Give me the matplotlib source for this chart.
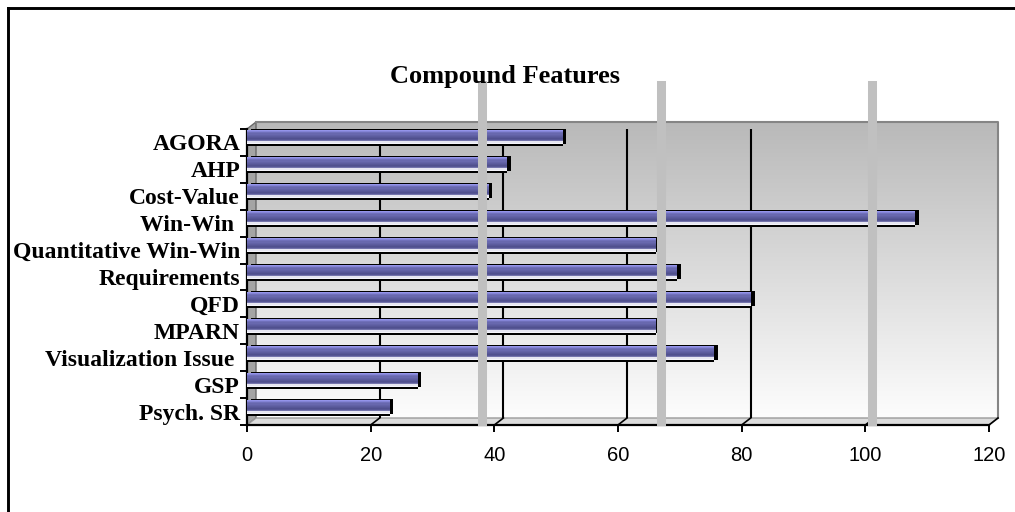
import numpy as np
import matplotlib
matplotlib.use('Agg')
import matplotlib.pyplot as plt
from matplotlib.transforms import ScaledTranslation
from matplotlib.colors import LinearSegmentedColormap, ListedColormap

# --- data ---
methods = ['AGORA', 'AHP', 'Cost-Value', 'Win-Win ', 'Quantitative Win-Win',
           'Requirements', 'QFD', 'MPARN', 'Visualization Issue ', 'GSP', 'Psych. SR']
scores = [51, 42, 39, 108, 66, 69.5, 81.5, 66, 75.5, 27.5, 23]
band_marks = [38, 67, 101]
x_ticks = [0, 20, 40, 60, 80, 100, 120]

# --- layout (pixels) ---
W, H = 1015, 512
FX0, FX1 = 247, 989      # front plane left / right
FY0, FY1 = 129, 425      # front plane top / bottom
DX, DY = 9, 7            # depth offset of the back wall

fig = plt.figure(figsize=(W / 100, H / 100), dpi=100)

# background layer in pixel coordinates
bg = fig.add_axes([0, 0, 1, 1], zorder=0)
bg.axis('off')

# outer frame (left and top only visible)
bg.plot([8, 8], [8, H], color='black', lw=2.1, solid_capstyle='projecting')
bg.plot([8, W], [8, 8], color='black', lw=2.1, solid_capstyle='projecting')

# back wall gradient
wall_cmap = LinearSegmentedColormap.from_list('wall', ['#b9b9b9', '#fdfdfd'])
bg.imshow(np.linspace(0, 1, 256)[:, None], cmap=wall_cmap, aspect='auto',
          origin='upper', extent=(FX0 + DX, FX1 + DX, FY1 - DY, FY0 - DY))

# left wall and floor
bg.fill([FX0, FX0 + DX, FX0 + DX, FX0], [FY0, FY0 - DY, FY1 - DY, FY1],
        facecolor='#a4a4a4', edgecolor='#6a6a6a', lw=1)
bg.fill([FX0, FX0 + DX, FX1 + DX, FX1], [FY1, FY1 - DY, FY1 - DY, FY1],
        facecolor='#dcdcdc', edgecolor='#9a9a9a', lw=1)
bg.plot([FX0 + DX, FX1 + DX, FX1 + DX], [FY0 - DY, FY0 - DY, FY1 - DY],
        color='#858585', lw=1.5)
bg.set_xlim(0, W)
bg.set_ylim(H, 0)

# title
fig.text(505 / W, 1 - 77 / H, 'Compound Features', ha='center', va='center',
         fontsize=19, fontweight='bold', fontfamily='Liberation Serif')

# --- main axes: front plane ---
ax = fig.add_axes([FX0 / W, 1 - FY1 / H, (FX1 - FX0) / W, (FY1 - FY0) / H], zorder=1)
ax.patch.set_visible(False)
n = len(methods)
pos = np.arange(n)

px = fig.dpi_scale_trans
back = ax.transData + ScaledTranslation(DX / 100, DY / 100, px)
bar_tr = ax.transData + ScaledTranslation(0, 3.5 / 100, px)
cap_tr = ax.transData + ScaledTranslation(4 / 100, 5.5 / 100, px)

# gridlines on the back wall
ax.vlines(x_ticks[1:-1], -0.5, n - 0.5, colors='black', lw=1.5,
          transform=back, zorder=1)

# bars: black depth block + striped front face
bar_h = 0.56
ax.barh(pos, scores, height=bar_h, color='black', transform=cap_tr, zorder=2)
stripes = ['#9494ea', '#8484d6', '#7070ba', '#6868ae', '#6262a6', '#5c5c9e',
           '#565696', '#50508e', '#565694', '#7474ac', '#e6e6f2', '#f4f4fa',
           '#000000', '#000000']
stripe_cmap = ListedColormap(stripes)
grad = np.arange(len(stripes))[:, None]
for p, v in zip(pos, scores):
    ax.imshow(grad, cmap=stripe_cmap, aspect='auto', origin='upper',
              interpolation='nearest', extent=(0, v, p + bar_h / 2, p - bar_h / 2),
              transform=bar_tr, zorder=3)

# grey vertical bands
for b in band_marks:
    ax.axvline(b, ymin=0.012, ymax=(FY1 - 85) / (FY1 - FY0), color='#c0c0c0',
               lw=6.5, clip_on=False, zorder=6)

ax.set_xlim(0, 120)
ax.set_ylim(n - 0.5, -0.5)

# floor gridline stubs at each x tick
to_bg = bg.transData.inverted()
for v in x_ticks[1:]:
    x0, y0 = to_bg.transform(ax.transData.transform((v, n - 0.5)))
    bg.plot([x0, x0 + DX], [y0, y0 - DY], color='black', lw=1.2)
bg.set_xlim(0, W)
bg.set_ylim(H, 0)

# axes styling
for s in ['top', 'right']:
    ax.spines[s].set_visible(False)
for s in ['left', 'bottom']:
    ax.spines[s].set_linewidth(1.6)
    ax.spines[s].set_color('black')

ax.set_xticks(x_ticks)
ax.set_xticklabels([str(t) for t in x_ticks], fontfamily='Liberation Sans', fontsize=14.5)
ax.tick_params(axis='x', length=5, width=1.4, pad=10, colors='black')

ax.set_yticks(pos)
ax.set_yticklabels(methods, fontfamily='Liberation Serif', fontweight='bold', fontsize=17)
ax.set_yticks(np.arange(-0.5, n), minor=True)
ax.tick_params(axis='y', which='major', length=0, pad=5)
ax.tick_params(axis='y', which='minor', length=5, width=1.4)

fig.savefig('out.png', dpi=100)
